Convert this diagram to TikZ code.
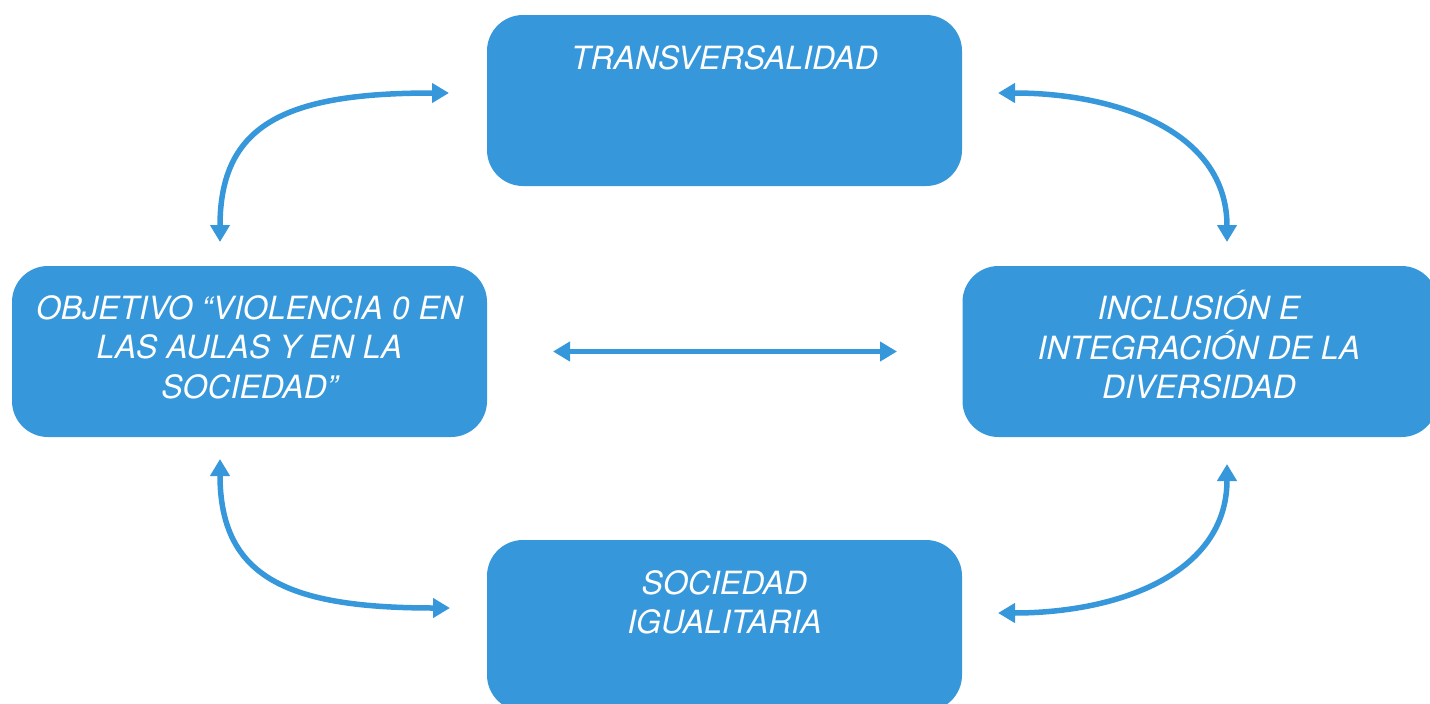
\documentclass[tikz,border=0pt]{standalone}
\usepackage{fontspec}
\setmainfont{TeX Gyre Heros}
\usetikzlibrary{arrows.meta,positioning}

\definecolor{boxblue}{RGB}{54,151,219}

\tikzset{
  blockbox/.style={rounded corners=36pt, fill=boxblue, minimum width=475pt, minimum height=171pt, inner sep=0pt},
  blocktext/.style={text=white, align=center, inner sep=0pt, font=\itshape\fontsize{32}{39.5}\selectfont},
  link/.style={draw=boxblue, line width=5.5pt, {Triangle[length=17pt,width=19pt]}-{Triangle[length=17pt,width=19pt]}}
}

\begin{document}
\begin{tikzpicture}[x=1pt, y=-1pt]
		\useasboundingbox (0,0) rectangle (1430,704);
		\clip (0,0) rectangle (1430,704);
		\foreach \pos/\name in {{(724.5,100.5)/transv}, {(249.5,351.5)/objetivo}, {(1200,351.5)/inclusion}, {(724.5,625.5)/sociedad}}
			\node[blockbox] (\name) at \pos {};
		\node[blocktext, below=30.5pt of transv.north] (transv-t) {TRANSVERSALIDAD};
		\node[blocktext, below=29.5pt of objetivo.north] (objetivo-t) {OBJETIVO “VIOLENCIA 0 EN\\LAS AULAS Y EN LA\\SOCIEDAD”};
		\node[blocktext, below=24.5pt of inclusion.north, xshift=-1pt] (inclusion-t) {INCLUSIÓN E\\INTEGRACIÓN DE LA\\DIVERSIDAD};
		\node[blocktext, below=30.5pt of sociedad.north] (sociedad-t) {SOCIEDAD\\IGUALITARIA};
		% free ends of the arrows
		\coordinate (tla) at (449,93);
		\coordinate (tlb) at (220,242);
		\coordinate (tra) at (998,93);
		\coordinate (trb) at (1227,242);
		\coordinate (bla) at (220,459);
		\coordinate (blb) at (450,608);
		\coordinate (bra) at (1227,464);
		\coordinate (brb) at (998,613);
		\coordinate (mida) at (553,351.5);
		\coordinate (midb) at (897,351.5);
		\path[link] (tla) .. controls +(-160,0) and +(0,-120) .. (tlb);
		\path[link] (tra) .. controls +(120,0) and +(0,-110) .. (trb);
		\path[link] (bla) .. controls +(0,120) and +(-160,0) .. (blb);
		\path[link] (bra) .. controls +(0,110) and +(120,0) .. (brb);
		\path[link] (mida) -- (midb);
	\end{tikzpicture}
\end{document}
